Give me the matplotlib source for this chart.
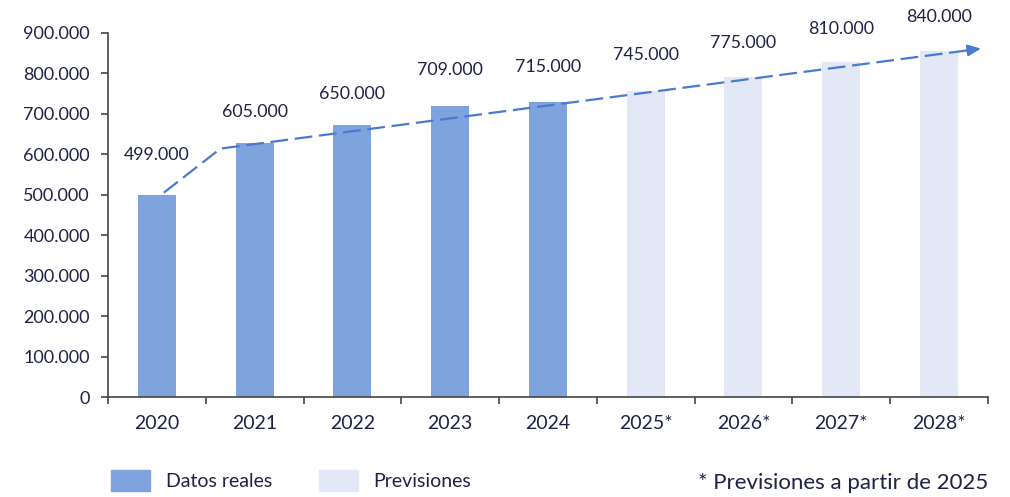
import matplotlib.pyplot as plt
from matplotlib.patches import Patch

# values
years = ['2020', '2021', '2022', '2023', '2024', '2025*', '2026*', '2027*', '2028*']
bar_heights = [500000, 628000, 671000, 718000, 730000, 757000, 790000, 827000, 854000]
label_values = [499000, 605000, 650000, 709000, 715000, 745000, 775000, 810000, 840000]
is_forecast = [False] * 5 + [True] * 4
trend_x = [0.07, 0.65, 8.43]
trend_y = [505000, 614000, 861000]
yticks = list(range(0, 900001, 100000))

REAL = '#7fa3dc'
FORE = '#e2e8f5'
LINE = '#4a7ad0'
TXT = '#1f2147'

plt.rcParams['font.family'] = ['Lato', 'DejaVu Sans']

fig = plt.figure(figsize=(10.1, 4.97), dpi=100)
ax = fig.add_axes([0.107, 0.201, 0.871, 0.733])

xs = list(range(len(years)))
colors = [FORE if f else REAL for f in is_forecast]
ax.bar(xs, bar_heights, width=0.39, color=colors, zorder=2)

for x, v in zip(xs, label_values):
    txt = f'{v:,}'.replace(',', '.')
    ax.annotate(txt, (x, v), xytext=(0, 29), textcoords='offset points',
                ha='center', va='center', fontsize=12.8, color=TXT,
                annotation_clip=False)

# trend line with arrow
ax.plot(trend_x[:-1] + [trend_x[-1] - 0.1], trend_y[:-1] + [trend_y[-1] - 3200],
        color=LINE, lw=1.6, dashes=(8, 3), zorder=3, clip_on=False)
ax.annotate('', xy=(trend_x[-1], trend_y[-1]),
            xytext=(trend_x[-1] - 0.15, trend_y[-1] - 4800),
            arrowprops=dict(arrowstyle='-|>,head_length=0.8,head_width=0.35',
                            color=LINE, lw=1.4, shrinkA=0, shrinkB=0),
            annotation_clip=False, zorder=4)

ax.set_xlim(-0.5, len(years) - 0.5)
ax.set_ylim(0, 900000)
ax.set_yticks(yticks)
ax.set_yticklabels([f'{t:,}'.replace(',', '.') if t else '0' for t in yticks])

ax.set_xticks([i - 0.5 for i in range(len(years) + 1)])
ax.set_xticklabels([])
ax.set_xticks(xs, minor=True)
ax.set_xticklabels(years, minor=True)
ax.tick_params(axis='x', which='minor', length=0, pad=13, labelsize=14, labelcolor=TXT)
ax.tick_params(axis='x', which='major', length=5, width=1.2, color='#444444')
ax.tick_params(axis='y', length=5, width=1.2, color='#444444', pad=8,
               labelsize=13, labelcolor=TXT)

for s in ['top', 'right']:
    ax.spines[s].set_visible(False)
for s in ['left', 'bottom']:
    ax.spines[s].set_color('#444444')
    ax.spines[s].set_linewidth(1.2)

handles = [Patch(color=REAL, label='Datos reales'), Patch(color=FORE, label='Previsiones')]
fig.legend(handles=handles, loc='center left', bbox_to_anchor=(0.093, 0.033),
           ncol=2, frameon=False, fontsize=14, handlelength=2.0, handleheight=1.3,
           columnspacing=2.4, handletextpad=0.8, labelcolor=TXT)

fig.text(0.978, 0.028, '* Previsiones a partir de 2025', ha='right', va='center',
         fontsize=16, color=TXT)

fig.savefig('out.png', dpi=100)
